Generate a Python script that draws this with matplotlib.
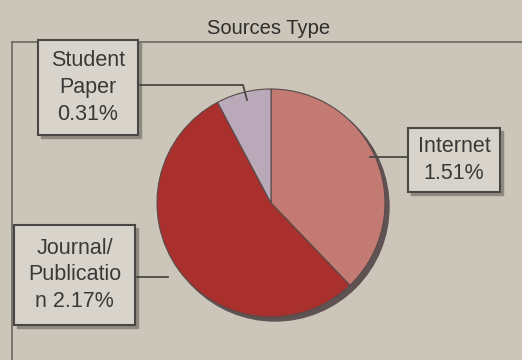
import matplotlib.pyplot as plt
from matplotlib.patches import Circle, Rectangle

plt.rcParams["font.family"] = ["Liberation Sans", "DejaVu Sans"]

sources = ["Internet", "Journal/\nPublicatio\nn", "Student\nPaper"]
shares = [1.51, 2.17, 0.31]
slice_colors = ["#c27a72", "#a9302d", "#b9a9b9"]

fig = plt.figure(figsize=(5.22, 3.6), dpi=100)
fig.patch.set_facecolor("#cbc6b9")
ax = fig.add_axes([0, 0, 1, 1])
ax.set_facecolor("#cbc6b9")

# pixel-like coordinates, y measured from the bottom
cx, cy, r = 271, 157, 114

# shadow rim behind the pie
ax.add_patch(Circle((cx + 4, cy - 4), r, color="#5e5352", zorder=0.5))

ax.pie(shares, colors=slice_colors, startangle=90, counterclock=False,
       center=(cx, cy), radius=r, frame=True,
       wedgeprops=dict(edgecolor="#5a4a4a", linewidth=0.8))

# plot area frame
ax.plot([12, 522], [318, 318], color="#6b6860", lw=1.2, zorder=0.4)
ax.plot([12, 12], [318, 0], color="#6b6860", lw=1.2, zorder=0.4)

ax.text(269, 332, "Sources Type", ha="center", va="center",
        fontsize=14.5, color="#2e2d2b")

# label boxes: (x0, y0, w, h) and text
labels = [
    (408, 168, 92, 64, "Internet\n1.51%"),
    (14, 35, 121, 100, "Journal/\nPublicatio\nn 2.17%"),
    (38, 225, 100, 95, "Student\nPaper\n0.31%"),
]
for x0, y0, w, h, txt in labels:
    ax.add_patch(Rectangle((x0 + 3, y0 - 3), w, h, color="#8f8a80", zorder=2))
    ax.add_patch(Rectangle((x0, y0), w, h, facecolor="#d8d4cc",
                           edgecolor="#4a4845", lw=1.5, zorder=3))
    ax.text(x0 + w / 2, y0 + h / 2, txt, ha="center", va="center",
            fontsize=15.5, color="#3a3937", linespacing=1.35, zorder=4)

# leader lines
lc = dict(color="#4a4845", lw=1.3, zorder=3)
ax.plot([138, 243, 247], [275, 275, 260], **lc)
ax.plot([370, 408], [203, 203], **lc)
ax.plot([135, 168], [83, 83], **lc)

ax.set_xlim(0, 522)
ax.set_ylim(0, 360)
ax.set_aspect("equal")
ax.axis("off")

plt.savefig("out.png", dpi=100, facecolor=fig.get_facecolor())
